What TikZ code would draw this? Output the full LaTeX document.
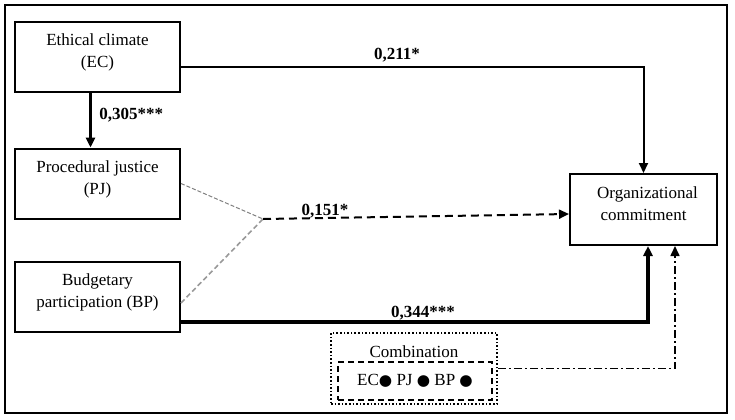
\documentclass[tikz,border=0pt]{standalone}
\usepackage{fontspec}
\setmainfont{Liberation Serif}
\newfontfamily\dotfont{DejaVu Sans}
\usetikzlibrary{arrows.meta}
\begin{document}
\begin{tikzpicture}[
              x = 0.5pt, y = -0.5pt,
              font = \fontsize{8.5}{11}\selectfont,
              blk/.style = {draw, line width = 1pt, align = center, text depth = 6pt,
                            minimum width = 82.5pt, minimum height = 35pt},
              lbl/.style = {font = \fontsize{8.5}{11}\selectfont\bfseries, inner sep = 1pt},
              tip/.style = {-{Triangle[length = 5pt, width = 4.5pt]}}
            ]
            \useasboundingbox (0,0) rectangle (735,419);
            \draw[line width = 1pt] (5,5) rectangle (727,413);
            % variables
            \node[blk] (ec) at (97.5,57) {Ethical climate\\(EC)};
            \node[blk] (pj) at (97.5,183.5) {Procedural justice\\(PJ)};
            \node[blk] (bp) at (97.5,297) {Budgetary\\participation (BP)};
            \node[blk, minimum width = 73.5pt, minimum height = 35.5pt] (oc) at (643.5,209.5)
              {\hspace*{4pt}Organizational\\commitment};
            % combination
            \node[draw, densely dotted, line width = 0.8pt, minimum width = 83pt,
                  minimum height = 35.5pt] (cmb) at (414,368.5) {};
            \node (cmbttl) at (414,352) {Combination};
            \node[draw, densely dashed, line width = 0.8pt, minimum width = 77pt,
                  minimum height = 19pt] (cmbin) at (415,381)
              {EC{\dotfont\scalebox{0.9}{●}} PJ {\dotfont\scalebox{0.9}{●}} BP {\dotfont\scalebox{0.9}{●}}};
            \coordinate (jn) at (263,219);
            % paths
            \draw[tip, line width = 1pt] ([yshift = -5pt]ec.east) -| (oc.north);
            \node[lbl] (l211) at (397,55) {0,211*};
            \draw[tip, line width = 1.5pt] ([xshift = -3.5pt]ec.south) -- ([xshift = -3.5pt]pj.north);
            \node[lbl, anchor = west] (l305) at (97,115) {0,305***};
            \draw[gray, line width = 0.5pt, dash pattern = on 2pt off 1pt] (pj.east) -- (jn);
            \draw[gray!80, line width = 0.8pt, dash pattern = on 2.5pt off 1.5pt] ([yshift = -3pt]bp.east) -- (jn);
            \draw[tip, line width = 1pt, dash pattern = on 4pt off 2.5pt] (jn) -- ([yshift = -2.25pt]oc.west);
            \node[lbl] (l151) at (325,211) {0,151*};
            \draw[tip, line width = 2pt] ([yshift = -12.5pt]bp.east) -| ([xshift = 2.25pt]oc.south);
            \node[lbl] (l344) at (423,313) {0,344***};
            \draw[tip, line width = 0.8pt, dash pattern = on 4pt off 1.5pt on 1pt off 1.5pt]
              (cmb.east) -| ([xshift = 15.75pt]oc.south);
          \end{tikzpicture}
\end{document}
